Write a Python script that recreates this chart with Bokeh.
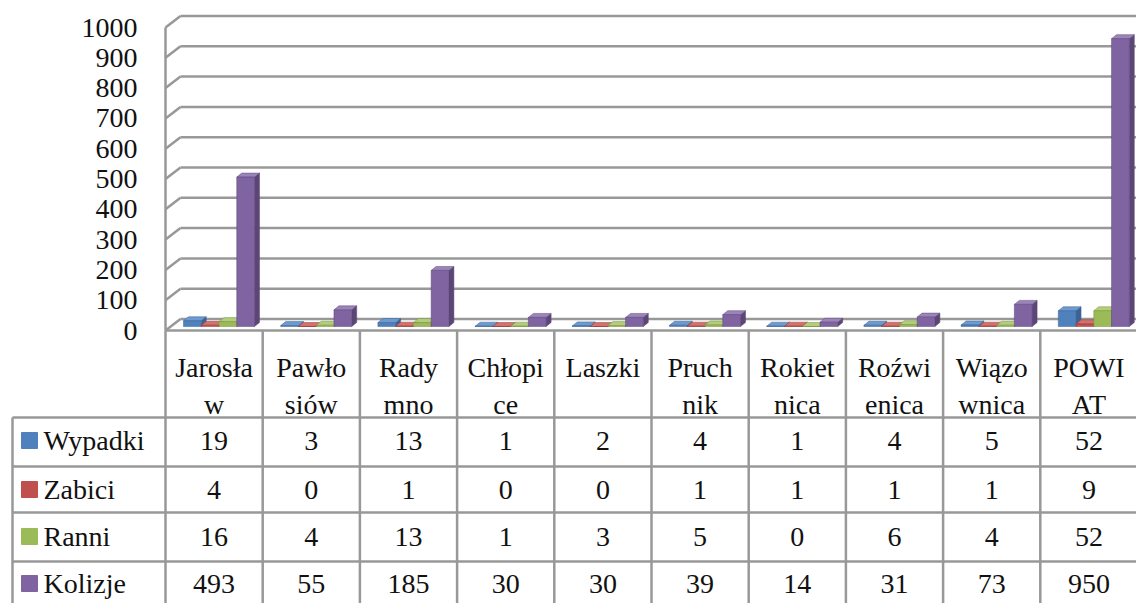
from bokeh.plotting import figure
from bokeh.models import Range1d
from bokeh.core.properties import value
from bokeh.embed import file_html
from bokeh.resources import INLINE

# ---------------- data ----------------
categories = ["Jarosław", "Pawłosiów", "Radymno", "Chłopice", "Laszki",
              "Pruchnik", "Rokietnica", "Roźwienica", "Wiązownica", "POWIAT"]
header_labels = ["Jarosła\nw", "Pawło\nsiów", "Rady\nmno", "Chłopi\nce", "Laszki",
                 "Pruch\nnik", "Rokiet\nnica", "Roźwi\nenica", "Wiązo\nwnica", "POWI\nAT"]
series_names = ["Wypadki", "Zabici", "Ranni", "Kolizje"]
wypadki = [19, 3, 13, 1, 2, 4, 1, 4, 5, 52]
zabici = [4, 0, 1, 0, 0, 1, 1, 1, 1, 9]
ranni = [16, 4, 13, 1, 3, 5, 0, 6, 4, 52]
kolizje = [493, 55, 185, 30, 30, 39, 14, 31, 73, 950]
y_ticks = [0, 100, 200, 300, 400, 500, 600, 700, 800, 900, 1000]
y_tick_labels = ["0", "100", "200", "300", "400", "500", "600", "700", "800", "900", "1000"]

series_values = [wypadki, zabici, ranni, kolizje]
front_colors = ["#4F81BD", "#C0504D", "#9BBB59", "#8064A2"]
side_colors = ["#3A6294", "#943B39", "#76903F", "#5B4677"]
top_colors = ["#6E9AD0", "#D3716E", "#B3CE7B", "#9B84B9"]

# ---------------- geometry (pixels -> data units) ----------------
W, H = 1136, 603
CW = 97.2      # px per category
KY = 0.303     # px per value unit
OX = 165       # px from left of figure to category axis start
OY = 330       # px from top of figure to front floor line


def ux(px):
    return px / CW


def uy(px):
    return px / KY


n = len(categories)
x_end = n
DX, DY = ux(15), uy(11.5)          # depth of the chart walls
BDX, BDY = ux(5), uy(4)            # depth of each bar
bar_w = ux(17.75)
bar_off = ux(18)
bar_base = uy(4)

p = figure(width=W, height=H,
           x_range=Range1d(-OX / CW, (W - OX) / CW),
           y_range=Range1d(-(H - OY) / KY, OY / KY),
           output_backend="svg", toolbar_location=None,
           min_border=0, min_border_left=0, min_border_right=0,
           min_border_top=0, min_border_bottom=0)
p.xaxis.visible = False
p.yaxis.visible = False
p.grid.visible = False
p.outline_line_color = None
p.background_fill_color = "white"

grid_col = "#989898"
font = value("serif")
fs = "28px"
tcol = "#111111"

# ---------------- walls and gridlines ----------------
gx0 = [DX for _ in y_ticks]
gx1 = [x_end + DX + 1 for _ in y_ticks]
gy = [t + DY for t in y_ticks]
p.segment(x0=gx0, y0=gy, x1=gx1, y1=gy, line_color=grid_col, line_width=2.5)
p.segment(x0=[0 for _ in y_ticks], y0=y_ticks, x1=gx0, y1=gy,
          line_color=grid_col, line_width=2.5)
p.segment(x0=[0, 0, x_end], y0=[0, 0, 0], x1=[0, x_end, x_end + DX], y1=[y_ticks[-1], 0, DY],
          line_color=grid_col, line_width=2.5)

# y tick labels
p.text(x=[ux(-28)] * len(y_ticks), y=y_ticks, text=y_tick_labels,
       text_font=font, text_font_size=fs, text_color=tcol,
       text_align="right", text_baseline="middle")

# ---------------- 3D bars ----------------
for j, vals in enumerate(series_values):
    xl = [i + bar_off + j * bar_w for i in range(n)]
    xr = [x + bar_w for x in xl]
    tops = [bar_base + v for v in vals]
    side_xs = [[r, r + BDX, r + BDX, r] for r in xr]
    side_ys = [[bar_base, bar_base + BDY, t + BDY, t] for t in tops]
    top_xs = [[l, l + BDX, r + BDX, r] for l, r in zip(xl, xr)]
    top_ys = [[t, t + BDY, t + BDY, t] for t in tops]
    p.patches(xs=side_xs, ys=side_ys, fill_color=side_colors[j],
              line_color=side_colors[j], line_width=0.5)
    p.patches(xs=top_xs, ys=top_ys, fill_color=top_colors[j],
              line_color=side_colors[j], line_width=0.5)
    p.quad(left=xl, right=xr, bottom=[bar_base] * n, top=tops,
           fill_color=front_colors[j], line_color=side_colors[j], line_width=0.5)

# ---------------- data table ----------------
row_lines_px = [87, 136, 182, 231]        # px below floor line
row_text_px = [110, 159, 206, 253]
head_px = [37, 74]
bottom = -(H - OY) / KY
leg_left = ux(12 - OX)

p.segment(x0=list(range(n + 1)), y0=[0] * (n + 1), x1=list(range(n + 1)), y1=[bottom] * (n + 1),
          line_color=grid_col, line_width=2.5)
p.segment(x0=[leg_left], y0=[-uy(row_lines_px[0])], x1=[leg_left], y1=[bottom],
          line_color=grid_col, line_width=2.5)
hy = [-uy(v) for v in row_lines_px]
p.segment(x0=[leg_left] * len(hy), y0=hy, x1=[x_end] * len(hy), y1=hy,
          line_color=grid_col, line_width=2.5)

cx = [i + 0.5 for i in range(n)]
line1 = [s.split("\n")[0] for s in header_labels]
line2 = [s.split("\n")[1] if "\n" in s else "" for s in header_labels]
p.text(x=cx, y=[-uy(head_px[0])] * n, text=line1, text_font=font, text_font_size=fs,
       text_color=tcol, text_align="center", text_baseline="middle")
p.text(x=cx, y=[-uy(head_px[1])] * n, text=line2, text_font=font, text_font_size=fs,
       text_color=tcol, text_align="center", text_baseline="middle")

for j, vals in enumerate(series_values):
    ry = -uy(row_text_px[j])
    p.text(x=cx, y=[ry] * n, text=[str(v) for v in vals], text_font=font,
           text_font_size=fs, text_color=tcol, text_align="center", text_baseline="middle")
    p.scatter(x=[ux(29 - OX)], y=[ry], marker="square", size=16,
              fill_color=front_colors[j], line_color=front_colors[j])
    p.text(x=[ux(43 - OX)], y=[ry], text=[series_names[j]], text_font=font,
           text_font_size=fs, text_color=tcol, text_align="left", text_baseline="middle")

open("out.html", "w").write(file_html(p, INLINE))
